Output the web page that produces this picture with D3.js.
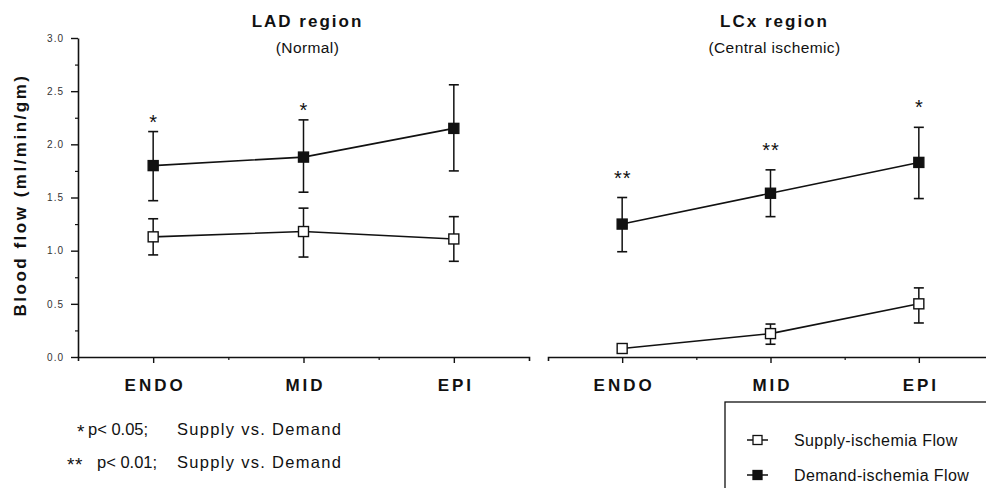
<!DOCTYPE html>
<html>
<head>
<meta charset="utf-8">
<script src="https://cdn.jsdelivr.net/npm/d3@7"></script>
<style>
  body { margin: 0; background: #fff; }
  svg { font-family: "Liberation Sans", Arial, sans-serif; }
</style>
</head>
<body>
<svg width="986" height="488"></svg>
<script>
// data
var categories = ['ENDO', 'MID', 'EPI'];

var ladSupply   = [1.13, 1.18, 1.11];
var ladSupplyHi = [1.30, 1.40, 1.32];
var ladSupplyLo = [0.96, 0.94, 0.90];
var ladDemand   = [1.80, 1.88, 2.15];
var ladDemandHi = [2.12, 2.23, 2.56];
var ladDemandLo = [1.47, 1.55, 1.75];
var ladStars    = ['*', '*', ''];

var lcxSupply   = [0.08, 0.22, 0.50];
var lcxSupplyHi = [null, 0.31, 0.65];
var lcxSupplyLo = [null, 0.12, 0.32];
var lcxDemand   = [1.25, 1.54, 1.83];
var lcxDemandHi = [1.50, 1.76, 2.16];
var lcxDemandLo = [0.99, 1.32, 1.49];
var lcxStars    = ['**', '**', '*'];

var yMajor = [0, 0.5, 1, 1.5, 2, 2.5, 3];
var yMinor = [0.25, 0.75, 1.25, 1.75, 2.25, 2.75];

var footnotes = [
  { mark: '*',  p: 'p< 0.05;', text: 'Supply vs. Demand' },
  { mark: '**', p: 'p< 0.01;', text: 'Supply vs. Demand' }
];
var legendItems = [
  { label: 'Supply-ischemia Flow', fill: '#fff' },
  { label: 'Demand-ischemia Flow', fill: '#111' }
];

var svg = d3.select('svg');
var ink = '#111';
var baseY = 357;

var y = d3.scaleLinear().domain([0, 3]).range([baseY, 38]);

// y axis (left panel only)
var yAxis = svg.append('g')
    .attr('transform', 'translate(78,0)')
    .call(d3.axisLeft(y).tickValues(yMajor).tickSize(7).tickSizeOuter(0).tickFormat(d3.format('.1f')));
yAxis.select('.domain').attr('stroke', ink).attr('stroke-width', 1.6);
yAxis.selectAll('.tick line').attr('stroke', ink).attr('stroke-width', 1.4);
yAxis.selectAll('.tick text')
    .attr('font-size', 10).attr('letter-spacing', 1).attr('fill', '#333').attr('x', -14);

svg.append('g')
    .attr('transform', 'translate(78,0)')
    .call(d3.axisLeft(y).tickValues(yMinor).tickSize(3).tickFormat(''))
  .call(function(g){ g.select('.domain').remove(); })
  .selectAll('.tick line').attr('stroke', ink).attr('stroke-width', 1.2);

svg.append('text')
    .attr('transform', 'translate(26,195) rotate(-90)')
    .attr('text-anchor', 'middle')
    .attr('font-size', 17).attr('font-weight', 'bold').attr('letter-spacing', 2.5)
    .attr('fill', ink)
    .text('Blood flow (ml/min/gm)');

var panels = [
  { title: 'LAD region', sub: '(Normal)', range: [78, 529], starGap: 14,
    supply: ladSupply, supplyHi: ladSupplyHi, supplyLo: ladSupplyLo,
    demand: ladDemand, demandHi: ladDemandHi, demandLo: ladDemandLo, stars: ladStars },
  { title: 'LCx region', sub: '(Central ischemic)', range: [548, 993], starGap: 24,
    supply: lcxSupply, supplyHi: lcxSupplyHi, supplyLo: lcxSupplyLo,
    demand: lcxDemand, demandHi: lcxDemandHi, demandLo: lcxDemandLo, stars: lcxStars }
];

const drawPanel = function(p) {
  var x = d3.scalePoint().domain(categories).range(p.range).padding(0.5);
  var xi = d3.scaleLinear().domain([-0.5, categories.length - 0.5]).range(p.range);
  var cx = (p.range[0] + p.range[1]) / 2;

  // x axis with bracket ends
  var xAxis = svg.append('g')
      .attr('transform', 'translate(0,' + baseY + ')')
      .call(d3.axisBottom(x).tickSize(6).tickSizeOuter(4).tickPadding(10));
  xAxis.select('.domain').attr('stroke', ink).attr('stroke-width', 1.6);
  xAxis.selectAll('.tick line').attr('stroke', ink).attr('stroke-width', 1.4);
  xAxis.selectAll('.tick text')
      .attr('font-size', 17).attr('font-weight', 'bold').attr('letter-spacing', 3)
      .attr('fill', ink).attr('dx', 1.5).attr('dy', '1.05em');

  svg.append('g')
      .attr('transform', 'translate(0,' + baseY + ')')
      .call(d3.axisBottom(xi).tickValues([0.5, 1.5]).tickSize(3).tickFormat(''))
    .call(function(g){ g.select('.domain').remove(); })
    .selectAll('.tick line').attr('stroke', ink).attr('stroke-width', 1.2);

  // titles
  svg.append('text')
      .attr('x', cx + 4).attr('y', 27)
      .attr('text-anchor', 'middle')
      .attr('font-size', 17).attr('font-weight', 'bold').attr('letter-spacing', 2)
      .attr('fill', ink).text(p.title);
  svg.append('text')
      .attr('x', cx + 4).attr('y', 53)
      .attr('text-anchor', 'middle')
      .attr('font-size', 15.5).attr('letter-spacing', 0.4)
      .attr('fill', ink).text(p.sub);

  var series = [
    { v: p.supply, hi: p.supplyHi, lo: p.supplyLo, fill: '#fff' },
    { v: p.demand, hi: p.demandHi, lo: p.demandLo, fill: ink }
  ];

  series.forEach(function(s) {
    var pts = categories.map(function(c, i) { return { c: c, v: s.v[i], hi: s.hi[i], lo: s.lo[i] }; });
    var g = svg.append('g');

    // error bars
    var bars = pts.filter(function(d) { return d.hi != null; });
    g.selectAll('line.err').data(bars).enter().append('line')
        .attr('x1', function(d) { return x(d.c); }).attr('x2', function(d) { return x(d.c); })
        .attr('y1', function(d) { return y(d.hi); }).attr('y2', function(d) { return y(d.lo); })
        .attr('stroke', ink).attr('stroke-width', 1.5);
    ['hi', 'lo'].forEach(function(k) {
      g.selectAll('line.cap' + k).data(bars).enter().append('line')
          .attr('x1', function(d) { return x(d.c) - 5; }).attr('x2', function(d) { return x(d.c) + 5; })
          .attr('y1', function(d) { return y(d[k]); }).attr('y2', function(d) { return y(d[k]); })
          .attr('stroke', ink).attr('stroke-width', 1.6);
    });

    // connecting line
    g.append('path')
        .attr('d', d3.line().x(function(d) { return x(d.c); }).y(function(d) { return y(d.v); })(pts))
        .attr('fill', 'none').attr('stroke', ink).attr('stroke-width', 1.6);

    // square markers
    g.selectAll('rect').data(pts).enter().append('rect')
        .attr('x', function(d) { return x(d.c) - 5; })
        .attr('y', function(d) { return y(d.v) - 5; })
        .attr('width', 10).attr('height', 10)
        .attr('fill', s.fill).attr('stroke', ink).attr('stroke-width', 1.4);
  });

  // significance stars above the demand error bars
  svg.selectAll(null).data(categories).enter().append('text')
      .attr('x', function(c) { return x(c) + 0.5; })
      .attr('y', function(c, i) { return y(p.demandHi[i]) - p.starGap + 11; })
      .attr('text-anchor', 'middle')
      .attr('font-size', 20).attr('letter-spacing', 1)
      .attr('fill', ink)
      .text(function(c, i) { return p.stars[i]; });
};

panels.forEach(drawPanel);

// footnotes
footnotes.forEach(function(f, i) {
  var ty = 435 + i * 33;
  svg.append('text')
      .attr('x', i === 0 ? 77 : 67).attr('y', ty + 3)
      .attr('font-size', 19).attr('letter-spacing', 0.5).attr('fill', ink)
      .text(f.mark);
  svg.append('text')
      .attr('x', i === 0 ? 88 : 97).attr('y', ty)
      .attr('font-size', 16.5).attr('fill', ink)
      .text(f.p);
  svg.append('text')
      .attr('x', 177).attr('y', ty)
      .attr('font-size', 16.5).attr('letter-spacing', 1.3).attr('fill', ink)
      .text(f.text);
});

// legend box (runs off the right and bottom edge as in the figure)
var legend = svg.append('g').attr('transform', 'translate(725,402)');
legend.append('rect')
    .attr('width', 300).attr('height', 120)
    .attr('fill', 'none').attr('stroke', ink).attr('stroke-width', 1.3);
legendItems.forEach(function(item, i) {
  var ly = 38 + i * 35;
  legend.append('line')
      .attr('x1', 22).attr('x2', 43).attr('y1', ly).attr('y2', ly)
      .attr('stroke', ink).attr('stroke-width', 1.5);
  legend.append('rect')
      .attr('x', 28).attr('y', ly - 4.5).attr('width', 9).attr('height', 9)
      .attr('fill', item.fill).attr('stroke', ink).attr('stroke-width', 1.3);
  legend.append('text')
      .attr('x', 69).attr('y', ly + 6)
      .attr('font-size', 16).attr('letter-spacing', 0.4).attr('fill', ink)
      .text(item.label);
});
</script>
</body>
</html>
